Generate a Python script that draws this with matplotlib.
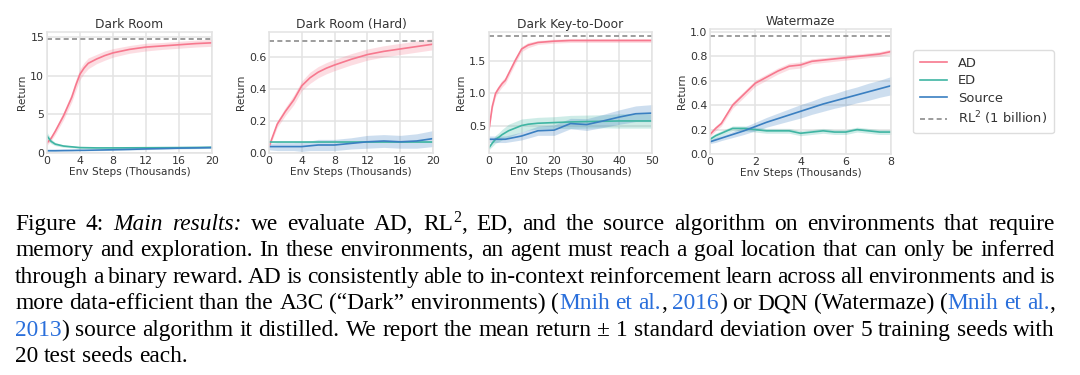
import numpy as np
import matplotlib
matplotlib.use("Agg")
import matplotlib.pyplot as plt
from matplotlib.lines import Line2D

""" data read off the figure (x in thousands of env steps) """

# Dark Room
dr_x = [0, 0.5, 1, 2, 3, 3.5, 4, 4.5, 5, 6, 7, 8, 10, 12, 14, 16, 18, 20]
dr_ad = [1.3, 1.9, 2.8, 4.8, 7.2, 8.8, 10.2, 11.0, 11.6, 12.15, 12.6, 12.95, 13.4, 13.7, 13.85, 14.0, 14.15, 14.25]
dr_ad_sd = [0.3, 0.3, 0.4, 0.5, 0.6, 0.7, 0.7, 0.7, 0.7, 0.6, 0.6, 0.55, 0.5, 0.5, 0.45, 0.45, 0.45, 0.45]
dr_ed = [2.2, 1.5, 1.15, 0.9, 0.8, 0.75, 0.7, 0.69, 0.68, 0.66, 0.66, 0.66, 0.67, 0.68, 0.69, 0.7, 0.72, 0.74]
dr_ed_sd = [0.5, 0.3, 0.2, 0.15, 0.12, 0.11, 0.1, 0.1, 0.1, 0.1, 0.1, 0.1, 0.1, 0.1, 0.1, 0.1, 0.1, 0.1]
dr_src = [0.3, 0.3, 0.3, 0.32, 0.33, 0.34, 0.35, 0.35, 0.36, 0.38, 0.4, 0.42, 0.47, 0.53, 0.58, 0.63, 0.66, 0.7]
dr_src_sd = [0.08, 0.08, 0.08, 0.08, 0.08, 0.08, 0.08, 0.08, 0.08, 0.08, 0.08, 0.08, 0.09, 0.09, 0.1, 0.1, 0.1, 0.1]
dr_rl2 = 14.75

# Dark Room (Hard)
drh_x = [0, 1, 2, 3, 4, 5, 6, 7, 8, 10, 12, 14, 16, 18, 20]
drh_ad = [0.04, 0.18, 0.26, 0.33, 0.42, 0.47, 0.505, 0.53, 0.55, 0.585, 0.615, 0.635, 0.65, 0.665, 0.68]
drh_ad_sd = [0.01, 0.02, 0.025, 0.03, 0.03, 0.035, 0.035, 0.035, 0.035, 0.035, 0.035, 0.035, 0.035, 0.035, 0.035]
drh_ed = [0.066, 0.066, 0.066, 0.066, 0.066, 0.066, 0.066, 0.066, 0.066, 0.066, 0.066, 0.066, 0.066, 0.066, 0.066]
drh_ed_sd = [0.005, 0.005, 0.005, 0.005, 0.005, 0.005, 0.005, 0.005, 0.005, 0.005, 0.005, 0.005, 0.005, 0.005, 0.005]
drh_src = [0.04, 0.04, 0.04, 0.04, 0.04, 0.045, 0.05, 0.05, 0.05, 0.06, 0.07, 0.075, 0.07, 0.075, 0.09]
drh_src_sd = [0.02, 0.025, 0.025, 0.025, 0.03, 0.03, 0.035, 0.035, 0.035, 0.035, 0.04, 0.04, 0.04, 0.045, 0.05]
drh_rl2 = 0.70

# Dark Key-to-Door
dk_x = [0, 1, 2, 3, 4, 5, 6, 7, 8, 10, 12, 15, 20, 25, 30, 35, 40, 45, 50]
dk_ad = [0.45, 0.8, 1.0, 1.08, 1.15, 1.2, 1.3, 1.4, 1.5, 1.68, 1.74, 1.78, 1.8, 1.81, 1.81, 1.81, 1.81, 1.81, 1.81]
dk_ad_sd = [0.03, 0.04, 0.05, 0.05, 0.05, 0.05, 0.05, 0.05, 0.05, 0.04, 0.04, 0.03, 0.03, 0.03, 0.03, 0.03, 0.03, 0.03, 0.03]
dk_ed = [0.17, 0.24, 0.3, 0.33, 0.37, 0.4, 0.43, 0.45, 0.47, 0.51, 0.53, 0.545, 0.555, 0.565, 0.57, 0.575, 0.58, 0.58, 0.58]
dk_ed_sd = [0.03, 0.05, 0.06, 0.07, 0.08, 0.09, 0.1, 0.1, 0.1, 0.1, 0.09, 0.09, 0.09, 0.1, 0.1, 0.1, 0.11, 0.11, 0.11]
dk_src_x = [0, 5, 10, 15, 20, 25, 30, 35, 40, 45, 50]
dk_src = [0.3, 0.3, 0.35, 0.43, 0.44, 0.54, 0.525, 0.58, 0.64, 0.69, 0.70]
dk_src_sd = [0.05, 0.05, 0.06, 0.07, 0.08, 0.08, 0.09, 0.1, 0.11, 0.12, 0.13]
dk_rl2 = 1.88

# Watermaze
wm_x = [0, 0.25, 0.5, 1, 1.5, 2, 2.5, 3, 3.5, 4, 4.5, 5, 5.5, 6, 6.5, 7, 7.5, 8]
wm_ad = [0.16, 0.21, 0.25, 0.4, 0.49, 0.58, 0.63, 0.68, 0.72, 0.73, 0.76, 0.77, 0.78, 0.79, 0.80, 0.81, 0.82, 0.84]
wm_ad_sd = [0.02, 0.02, 0.02, 0.025, 0.025, 0.025, 0.025, 0.025, 0.025, 0.025, 0.02, 0.02, 0.02, 0.02, 0.02, 0.02, 0.02, 0.02]
wm_ed = [0.12, 0.15, 0.17, 0.21, 0.21, 0.2, 0.19, 0.19, 0.19, 0.17, 0.18, 0.19, 0.18, 0.18, 0.2, 0.19, 0.18, 0.18]
wm_ed_sd = [0.02, 0.02, 0.02, 0.02, 0.02, 0.02, 0.02, 0.02, 0.02, 0.02, 0.02, 0.02, 0.02, 0.02, 0.02, 0.02, 0.02, 0.02]
wm_src = [0.10, 0.115, 0.13, 0.16, 0.19, 0.225, 0.26, 0.29, 0.32, 0.35, 0.38, 0.41, 0.435, 0.46, 0.485, 0.51, 0.535, 0.56]
wm_src_sd = [0.015, 0.02, 0.02, 0.025, 0.03, 0.035, 0.04, 0.045, 0.05, 0.055, 0.055, 0.06, 0.06, 0.065, 0.065, 0.07, 0.07, 0.075]
wm_rl2 = 0.97

titles = ["Dark Room", "Dark Room (Hard)", "Dark Key-to-Door", "Watermaze"]
xticks = [[0, 4, 8, 12, 16, 20], [0, 4, 8, 12, 16, 20], [0, 10, 20, 30, 40, 50], [0, 2, 4, 6, 8]]
yticks = [[0, 5, 10, 15], [0.0, 0.2, 0.4, 0.6], [0.5, 1.0, 1.5], [0.0, 0.2, 0.4, 0.6, 0.8, 1.0]]
yfmt = ["%d", "%.1f", "%.1f", "%.1f"]
labels = ["AD", "ED", "Source", "RL$^2$ (1 billion)"]

caption = [
    "Figure 4: *Main results:* we evaluate AD, RL^2, ED, and the source algorithm on environments that require",
    "memory and exploration. In these environments, an agent must reach a goal location that can only be inferred",
    "through a binary reward. AD is consistently able to in-context reinforcement learn across all environments and is",
    "more data-efficient than the A3C (\u201cDark\u201d environments) ({Mnih et al.}, {2016}) or DQN (Watermaze) ({Mnih et al.},",
    "{2013}) source algorithm it distilled. We report the mean return \u00b1 1 standard deviation over 5 training seeds with",
    "20 test seeds each.",
]

AD_C = "#f7788e"
ED_C = "#3fb5a3"
SRC_C = "#3a7fc1"
RL_C = "#8c8c8c"
GRID_C = "#e3e3e3"
LINK_C = "#2a6fdb"
TXT_C = "#333333"

W, H = 1080, 375
fig = plt.figure(figsize=(W / 100, H / 100), dpi=100)
fig.patch.set_facecolor("white")


def px_axes(l, t, r, b):
    return fig.add_axes([l / W, 1 - b / H, (r - l) / W, (b - t) / H])


def curve(ax, x, m, s, c):
    m = np.array(m)
    s = np.array(s)
    ax.fill_between(x, m - s, m + s, color=c, alpha=0.25, lw=0)
    ax.plot(x, m, color=c, lw=1.2)


# axes boxes in pixels: left, top, right, bottom
boxes = [(47, 32, 212, 153), (269, 32, 433, 153), (489, 32, 652, 153), (710, 29, 891, 154)]
ylims = [(0, 15.65), (0, 0.756), (0.09, 1.94), (0, 1.025)]
xlims = [(0, 20), (0, 20), (0, 50), (0, 8)]

series = [
    (dr_x, dr_ad, dr_ad_sd, dr_x, dr_ed, dr_ed_sd, dr_x, dr_src, dr_src_sd, dr_rl2),
    (drh_x, drh_ad, drh_ad_sd, drh_x, drh_ed, drh_ed_sd, drh_x, drh_src, drh_src_sd, drh_rl2),
    (dk_x, dk_ad, dk_ad_sd, dk_x, dk_ed, dk_ed_sd, dk_src_x, dk_src, dk_src_sd, dk_rl2),
    (wm_x, wm_ad, wm_ad_sd, wm_x, wm_ed, wm_ed_sd, wm_x, wm_src, wm_src_sd, wm_rl2),
]

for i, box in enumerate(boxes):
    ax = px_axes(*box)
    ax_x, ad, ad_sd, ex, ed, ed_sd, sx, src, src_sd, rl2 = series[i]
    curve(ax, ax_x, ad, ad_sd, AD_C)
    curve(ax, ex, ed, ed_sd, ED_C)
    curve(ax, sx, src, src_sd, SRC_C)
    ax.axhline(rl2, color=RL_C, lw=1.2, ls=(0, (3, 2)))
    ax.set_xlim(*xlims[i])
    ax.set_ylim(*ylims[i])
    ax.set_xticks(xticks[i])
    ax.set_yticks(yticks[i])
    ax.set_yticklabels([yfmt[i] % v for v in yticks[i]])
    ax.grid(True, color=GRID_C, lw=1.1)
    ax.set_axisbelow(True)
    for s in ax.spines.values():
        s.set_color(GRID_C)
        s.set_linewidth(1.1)
    ax.tick_params(length=0, labelsize=7.9, labelcolor=TXT_C, pad=2)
    ax.set_title(titles[i], fontsize=8.8, color=TXT_C, pad=3)
    ax.set_xlabel("Env Steps (Thousands)", fontsize=7.6, color=TXT_C, labelpad=1)
    ax.set_ylabel("Return", fontsize=7.6, color=TXT_C, labelpad=2)

handles = [
    Line2D([], [], color=AD_C, lw=1.2),
    Line2D([], [], color=ED_C, lw=1.2),
    Line2D([], [], color=SRC_C, lw=1.2),
    Line2D([], [], color=RL_C, lw=1.2, ls=(0, (3, 2))),
]
leg = fig.legend(handles, labels, loc="upper left", bbox_to_anchor=(913 / W, 1 - 50 / H),
                 borderaxespad=0, fontsize=9.4, handlelength=2.1, handletextpad=0.85,
                 labelspacing=0.35, borderpad=0.5, frameon=True, fancybox=True,
                 edgecolor="#dddddd", framealpha=1)
for t in leg.get_texts():
    t.set_color(TXT_C)

""" caption, justified word by word """


def parse(line):
    words, cur, buf = [], [], ""
    ital = blue = sup = False
    for ch in line + " ":
        if ch in " *{}^":
            if buf:
                cur.append((buf, ital, blue, False))
                buf = ""
            if ch == " ":
                if cur:
                    words.append(cur)
                cur = []
            elif ch == "*":
                ital = not ital
            elif ch == "{":
                blue = True
            elif ch == "}":
                blue = False
            else:
                sup = True
        elif sup:
            cur.append((ch, ital, blue, True))
            sup = False
        else:
            buf += ch
    return words


renderer = fig.canvas.get_renderer()
left_px, right_px = 15, 1055
for i, line in enumerate(caption):
    y = 1 - (230 + i * 26.4) / H
    words = parse(line)
    placed = []
    total = 0
    for w in words:
        parts = []
        wsum = 0
        for txt, ital, blue, sup in w:
            t = fig.text(0, y + (8 / H if sup else 0), txt, fontsize=11.5 if sup else 16.8,
                         family=["Liberation Serif", "DejaVu Serif"],
                         style="italic" if ital else "normal",
                         color=LINK_C if blue else "black", va="baseline", ha="left")
            wd = t.get_window_extent(renderer).width
            parts.append((t, wsum))
            wsum += wd
        placed.append((parts, wsum))
        total += wsum
    if i < len(caption) - 1:
        gap = (right_px - left_px - total) / (len(words) - 1)
    else:
        gap = 5.8
    x = left_px
    for parts, wsum in placed:
        for t, off in parts:
            t.set_x((x + off) / W)
        x += wsum + gap

fig.savefig("out.png", dpi=100, facecolor="white")
